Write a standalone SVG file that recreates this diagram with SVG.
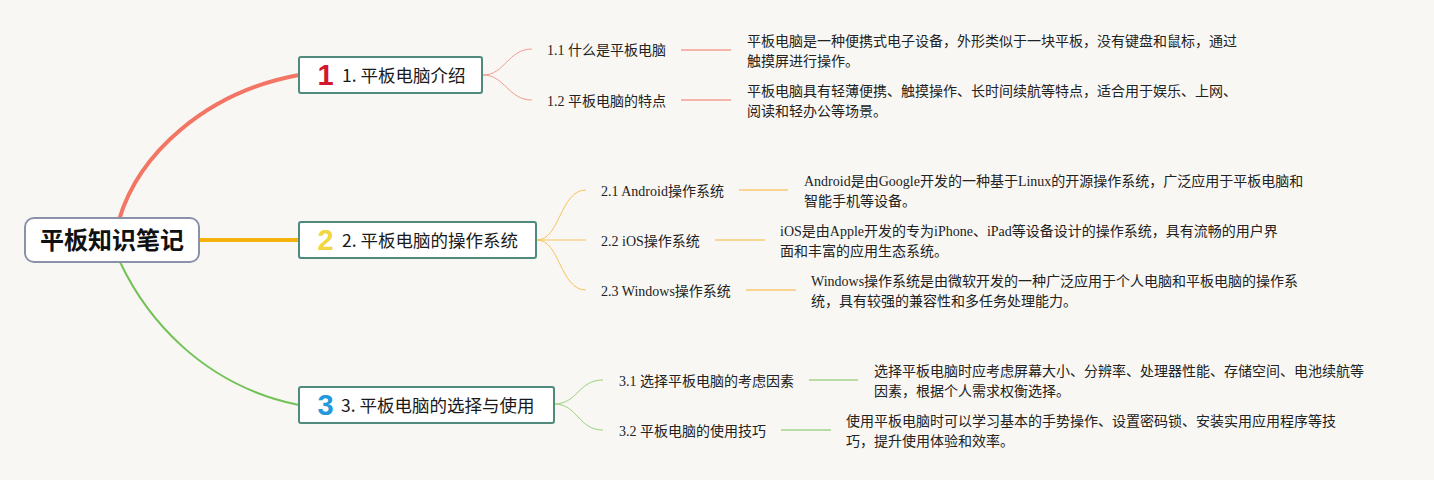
<svg xmlns="http://www.w3.org/2000/svg" width="1434" height="480" viewBox="0 0 1434 480">
<style>
.bg{fill:#f8f7f4}
.main{fill:#ffffff;stroke:#4f8a7c;stroke-width:2}
.root{fill:#ffffff;stroke:#8a92aa;stroke-width:2}
.rt{font-family:"Noto Sans CJK SC","Liberation Sans",sans-serif;font-weight:bold;font-size:24px;fill:#111}
.mt{font-family:"Noto Sans CJK SC","Liberation Sans",sans-serif;font-size:17.5px;fill:#1a1a1a}
.ic{font-family:"Liberation Sans","Noto Sans CJK SC",sans-serif;font-weight:bold;text-anchor:middle}
.st{font-family:"Liberation Serif","Noto Sans CJK SC",serif;font-size:14px;fill:#222}
.dt{font-family:"Liberation Serif","Noto Sans CJK SC",serif;font-size:14px;fill:#222}
.c1{fill:none;stroke:#f29b8c;stroke-width:1}
.c2{fill:none;stroke:#f7c45c;stroke-width:1}
.c3{fill:none;stroke:#99d27c;stroke-width:1}
.l1{stroke:#f4b6ab;stroke-width:2}
.l2{stroke:#f8d590;stroke-width:2}
.l3{stroke:#b8dca4;stroke-width:2}
</style>
<rect class="bg" x="0" y="0" width="1434" height="480"/>
<g id="connectors">
<path d="M119,220 C138,155 205,92 299,75" fill="none" stroke="#f37563" stroke-width="4"/>
<line x1="199" y1="240" x2="299" y2="240" stroke="#f5b10c" stroke-width="4"/>
<path d="M120,262 C145,315 200,385 299,405" fill="none" stroke="#72c256" stroke-width="2"/>
<path class="c1" d="M483,75 C505,75 508,49 532,49"/>
<path class="c1" d="M483,75 C505,75 508,100 532,100"/>
<line class="l1" x1="681" y1="50" x2="731" y2="50"/>
<line class="l1" x1="681" y1="100" x2="731" y2="100"/>
<path class="c2" d="M537,240 C560,240 560,190 586,190"/>
<path class="c2" d="M537,240 L586,240"/>
<path class="c2" d="M537,240 C560,240 560,290 586,290"/>
<line class="l2" x1="739" y1="190" x2="788" y2="190"/>
<line class="l2" x1="715" y1="240" x2="765" y2="240"/>
<line class="l2" x1="746" y1="290" x2="796" y2="290"/>
<path class="c3" d="M554,404 C578,404 578,380 603,380"/>
<path class="c3" d="M554,404 C578,404 578,430 603,430"/>
<line class="l3" x1="809" y1="380" x2="858" y2="380"/>
<line class="l3" x1="781" y1="430" x2="831" y2="430"/>
</g>
<g id="root">
<rect class="root" x="25" y="218" width="174" height="44" rx="9"/>
<text class="rt" x="112" y="248.5" text-anchor="middle">平板知识笔记</text>
</g>
<g id="n1">
<rect class="main" x="299" y="57" width="183" height="36" rx="2"/>
<text class="ic" x="325.5" y="85" font-size="29" fill="#d3172d">1</text>
<text class="mt" x="342" y="81.5">1. 平板电脑介绍</text>
</g>
<g id="n2">
<rect class="main" x="299" y="222" width="237" height="36" rx="2"/>
<text class="ic" x="325.5" y="250" font-size="29" fill="#f2d640">2</text>
<text class="mt" x="342" y="246.5">2. 平板电脑的操作系统</text>
</g>
<g id="n3">
<rect class="main" x="299" y="387" width="255" height="36" rx="2"/>
<text class="ic" x="325.5" y="415" font-size="29" fill="#2398dc">3</text>
<text class="mt" x="341" y="411.5">3. 平板电脑的选择与使用</text>
</g>
<g id="n11">
<text class="st" x="547" y="55">1.1 什么是平板电脑</text>
<text class="dt" x="747" y="46">平板电脑是一种便携式电子设备，外形类似于一块平板，没有键盘和鼠标，通过</text>
<text class="dt" x="747" y="65.5">触摸屏进行操作。</text>
</g>
<g id="n12">
<text class="st" x="547" y="105.5">1.2 平板电脑的特点</text>
<text class="dt" x="747" y="96">平板电脑具有轻薄便携、触摸操作、长时间续航等特点，适合用于娱乐、上网、</text>
<text class="dt" x="747" y="115.5">阅读和轻办公等场景。</text>
</g>
<g id="n21">
<text class="st" x="601" y="195.5">2.1 Android操作系统</text>
<text class="dt" x="804" y="186">Android是由Google开发的一种基于Linux的开源操作系统，广泛应用于平板电脑和</text>
<text class="dt" x="804" y="205.5">智能手机等设备。</text>
</g>
<g id="n22">
<text class="st" x="601" y="245.5">2.2 iOS操作系统</text>
<text class="dt" x="780" y="236">iOS是由Apple开发的专为iPhone、iPad等设备设计的操作系统，具有流畅的用户界</text>
<text class="dt" x="780" y="255.5">面和丰富的应用生态系统。</text>
</g>
<g id="n23">
<text class="st" x="601" y="295.5">2.3 Windows操作系统</text>
<text class="dt" x="811" y="286">Windows操作系统是由微软开发的一种广泛应用于个人电脑和平板电脑的操作系</text>
<text class="dt" x="811" y="305.5">统，具有较强的兼容性和多任务处理能力。</text>
</g>
<g id="n31">
<text class="st" x="619" y="385.5">3.1 选择平板电脑的考虑因素</text>
<text class="dt" x="874" y="376">选择平板电脑时应考虑屏幕大小、分辨率、处理器性能、存储空间、电池续航等</text>
<text class="dt" x="874" y="395.5">因素，根据个人需求权衡选择。</text>
</g>
<g id="n32">
<text class="st" x="619" y="435.5">3.2 平板电脑的使用技巧</text>
<text class="dt" x="846" y="426">使用平板电脑时可以学习基本的手势操作、设置密码锁、安装实用应用程序等技</text>
<text class="dt" x="846" y="445.5">巧，提升使用体验和效率。</text>
</g>
</svg>
